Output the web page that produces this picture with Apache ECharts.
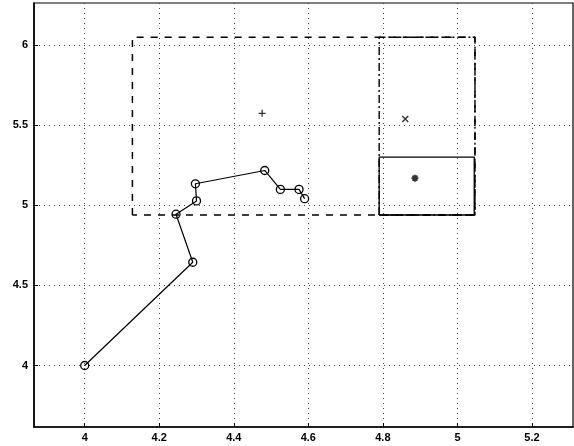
<!DOCTYPE html>
<html>
<head>
<meta charset="utf-8">
<script src="https://cdn.jsdelivr.net/npm/echarts@6/dist/echarts.min.js"></script>
<style>
  html, body { margin: 0; padding: 0; background: #fff; }
  #chart { width: 574px; height: 446px; }
</style>
</head>
<body>
<div id="chart"></div>
<script>
  // axis ticks
  var xTicks = [4, 4.2, 4.4, 4.6, 4.8, 5, 5.2];
  var yTicks = [4, 4.5, 5, 5.5, 6];

  // trajectory (circles joined by line)
  var pathX = [4.00, 4.29, 4.245, 4.30, 4.297, 4.483, 4.525, 4.575, 4.59];
  var pathY = [4.00, 4.645, 4.945, 5.028, 5.135, 5.218, 5.10, 5.10, 5.042];

  // rectangles: [xmin, xmax, ymin, ymax]
  var bigDashBox = [4.128, 5.047, 4.94, 6.05];
  var dashDotBox = [4.79, 5.047, 4.94, 6.05];
  var solidBox = [4.79, 5.045, 4.94, 5.302];

  // single markers
  var plusPt = [4.476, 5.575];
  var crossPt = [4.86, 5.54];
  var starPt = [4.886, 5.17];

  function boxPoints(b) {
    return [[b[0], b[2]], [b[0], b[3]], [b[1], b[3]], [b[1], b[2]], [b[0], b[2]]];
  }

  var pathData = pathX.map(function (x, i) { return [x, pathY[i]]; });

  var labelFont = {
    color: '#000',
    fontFamily: 'Liberation Sans, Arial, sans-serif',
    fontWeight: 'bold',
    fontSize: 11
  };

  var myChart = echarts.init(document.getElementById('chart'));

  myChart.setOption({
    animation: false,
    backgroundColor: '#fff',
    grid: {
      left: 34, right: 1, top: 3, bottom: 19,
      show: true,
      borderColor: '#000',
      borderWidth: 1.2
    },
    xAxis: {
      type: 'value',
      min: 3.864,
      max: 5.31,
      axisLine: { show: true, onZero: false, lineStyle: { color: '#000', width: 1.6 } },
      axisTick: { show: true, inside: true, length: 4, customValues: xTicks, lineStyle: { color: '#000' } },
      axisLabel: Object.assign({ customValues: xTicks, margin: 5,
        formatter: function (v) { return String(+v.toFixed(1)); } }, labelFont),
      splitLine: { show: true, lineStyle: { color: '#444', type: [1, 4], width: 1 } }
    },
    yAxis: {
      type: 'value',
      min: 3.616,
      max: 6.264,
      axisLine: { show: true, onZero: false, lineStyle: { color: '#000', width: 1.6 } },
      axisTick: { show: true, inside: true, length: 4, customValues: yTicks, lineStyle: { color: '#000' } },
      axisLabel: Object.assign({ customValues: yTicks, margin: 6,
        formatter: function (v) { return String(+v.toFixed(1)); } }, labelFont),
      splitLine: { show: true, lineStyle: { color: '#444', type: [1, 4], width: 1 } }
    },
    series: [
      {
        type: 'line',
        data: boxPoints(bigDashBox),
        symbol: 'none',
        lineStyle: { color: '#000', width: 1.5, type: [7, 7] }
      },
      {
        type: 'line',
        data: boxPoints(dashDotBox),
        symbol: 'none',
        lineStyle: { color: '#000', width: 1.4, type: [8, 3, 2, 3] }
      },
      {
        type: 'line',
        data: boxPoints(solidBox),
        symbol: 'none',
        lineStyle: { color: '#000', width: 1.3 }
      },
      {
        type: 'line',
        data: pathData,
        symbol: 'circle',
        symbolSize: 8,
        lineStyle: { color: '#000', width: 1.2 },
        itemStyle: { color: 'transparent', borderColor: '#000', borderWidth: 1.3 }
      },
      {
        type: 'scatter',
        data: [plusPt],
        symbol: 'path://M0,5L10,5M5,0L5,10',
        symbolSize: 7,
        itemStyle: { color: 'transparent', borderColor: '#000', borderWidth: 1.3 }
      },
      {
        type: 'scatter',
        data: [crossPt],
        symbol: 'path://M0,0L10,10M10,0L0,10',
        symbolSize: 6,
        itemStyle: { color: 'transparent', borderColor: '#000', borderWidth: 1.4 }
      },
      {
        type: 'scatter',
        data: [starPt],
        symbol: 'path://M0,5L10,5M5,0L5,10M1.5,1.5L8.5,8.5M8.5,1.5L1.5,8.5',
        symbolSize: 7,
        itemStyle: { color: 'transparent', borderColor: '#000', borderWidth: 1.8 }
      }
    ]
  });
</script>
</body>
</html>
